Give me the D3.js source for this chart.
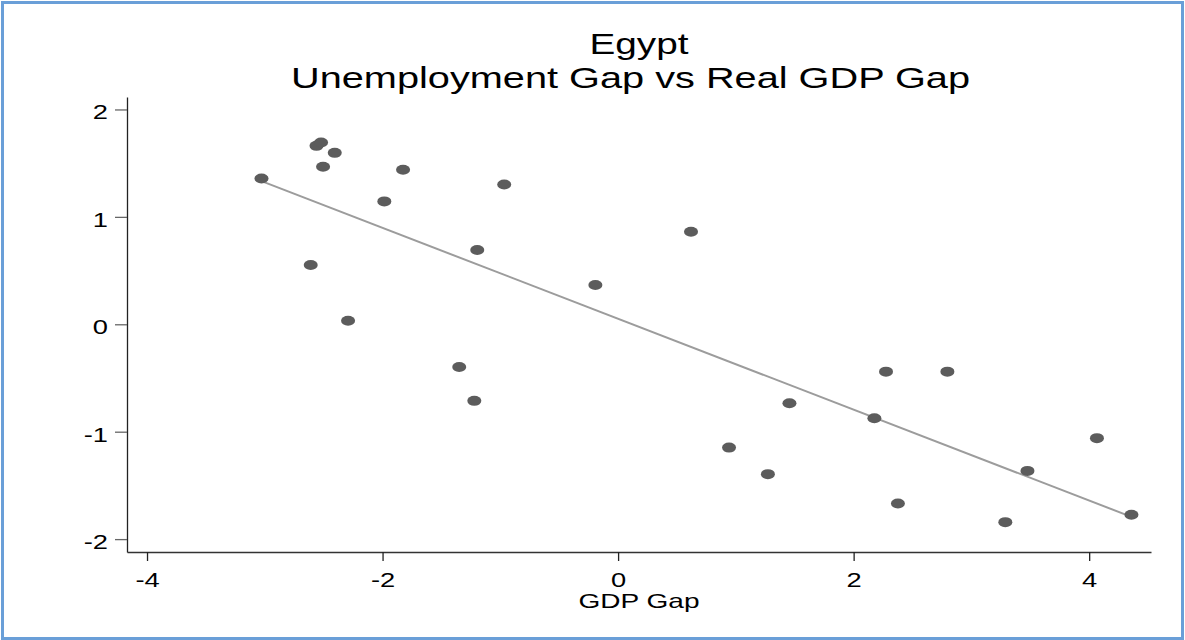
<!DOCTYPE html>
<html>
<head>
<meta charset="utf-8">
<script src="https://cdn.jsdelivr.net/npm/d3@7"></script>
<style>
  html, body { margin: 0; padding: 0; background: #fff; }
  svg { display: block; font-family: "Liberation Sans", Arial, Helvetica, sans-serif; }
</style>
</head>
<body>
<svg id="chart" width="1185" height="640"></svg>
<script>
// Output gap (x) and unemployment gap (y) for each year
const gdpGap = [-3.028, -2.561, -2.522, -2.406, -2.505, -1.826, -1.985, -0.967, -1.196, -2.610,
                -2.293, -0.193, 0.619, -1.349, -1.221, 1.455, 0.942, 1.272, 2.275, 2.796,
                2.176, 4.066, 3.476, 2.376, 3.288, 4.359];
const unempGap = [1.358, 1.661, 1.693, 1.596, 1.466, 1.438, 1.144, 1.302, 0.691, 0.552,
                  0.033, 0.366, 0.861, -0.397, -0.713, -0.735, -1.148, -1.395, -0.441, -0.441,
                  -0.874, -1.060, -1.365, -1.669, -1.842, -1.774];
const xTicks = [-4, -2, 0, 2, 4];
const yTicks = [-2, -1, 0, 1, 2];
const titleLines = ["Egypt", "Unemployment Gap vs Real GDP Gap"];
const xTitle = "GDP Gap";

// glyphs are drawn in a widened face
const stretch = 1.3;

const svg = d3.select("#chart");

// frame
svg.append("rect")
  .attr("x", 2.5).attr("y", 2.5)
  .attr("width", 1180).attr("height", 636)
  .attr("fill", "none")
  .attr("stroke", "#6a9fd8")
  .attr("stroke-width", 3);

const x = d3.scaleLinear().domain([-4.17, 4.525]).range([127, 1151]);
const y = d3.scaleLinear().domain([-2.12, 2.116]).range([552, 97]);

// least-squares fit line
const n = gdpGap.length;
const mx = d3.mean(gdpGap), my = d3.mean(unempGap);
let sxy = 0, sxx = 0;
for (let i = 0; i < n; i++) {
  sxy += (gdpGap[i] - mx) * (unempGap[i] - my);
  sxx += (gdpGap[i] - mx) * (gdpGap[i] - mx);
}
const slope = sxy / sxx, intercept = my - slope * mx;
const [x0, x1] = d3.extent(gdpGap);

svg.append("path")
  .datum([x0, x1])
  .attr("d", d3.line().x(d => x(d)).y(d => y(intercept + slope * d)))
  .attr("fill", "none")
  .attr("stroke", "#9c9c9c")
  .attr("stroke-width", 2);

// points
svg.append("g").selectAll("ellipse")
  .data(d3.range(n))
  .join("ellipse")
  .attr("cx", i => x(gdpGap[i]))
  .attr("cy", i => y(unempGap[i]))
  .attr("rx", 7).attr("ry", 5)
  .attr("fill", "#5c5c5c");

// axes
const yAxis = svg.append("g")
  .attr("transform", `translate(${x.range()[0]},0)`)
  .call(d3.axisLeft(y).tickValues(yTicks).tickFormat(d => String(d))
        .tickSize(12).tickPadding(7).tickSizeOuter(0));
yAxis.select(".domain").attr("stroke", "#222").attr("stroke-width", 1.3);
yAxis.selectAll(".tick line").attr("stroke", "#666").attr("stroke-width", 1.3);
yAxis.selectAll(".tick text")
  .attr("font-size", 21).attr("fill", "#000").attr("dy", "0.45em")
  .attr("font-family", "'Liberation Sans', Arial, sans-serif")
  .attr("x", -19 / stretch)
  .attr("transform", `scale(${stretch},1)`);

const xAxis = svg.append("g")
  .attr("transform", `translate(0,${y.range()[0]})`)
  .call(d3.axisBottom(x).tickValues(xTicks).tickFormat(d => String(d))
        .tickSize(9).tickPadding(11).tickSizeOuter(0));
xAxis.select(".domain").attr("stroke", "#333").attr("stroke-width", 1.3);
xAxis.selectAll(".tick line").attr("stroke", "#222").attr("stroke-width", 1.3);
xAxis.selectAll(".tick text")
  .attr("font-size", 21).attr("fill", "#000")
  .attr("font-family", "'Liberation Sans', Arial, sans-serif")
  .attr("transform", `scale(${stretch},1)`);

// x-axis title
svg.append("text")
  .attr("x", 639).attr("y", 608)
  .attr("text-anchor", "middle")
  .attr("font-size", 21)
  .attr("fill", "#000")
  .attr("textLength", 121).attr("lengthAdjust", "spacingAndGlyphs")
  .text(xTitle);

// chart title
svg.append("text")
  .attr("x", 639).attr("y", 54)
  .attr("text-anchor", "middle")
  .attr("font-size", 29.5)
  .attr("fill", "#000")
  .attr("textLength", 99).attr("lengthAdjust", "spacingAndGlyphs")
  .text(titleLines[0]);
svg.append("text")
  .attr("x", 630.5).attr("y", 87.5)
  .attr("text-anchor", "middle")
  .attr("font-size", 29.5)
  .attr("fill", "#000")
  .attr("textLength", 679).attr("lengthAdjust", "spacingAndGlyphs")
  .text(titleLines[1]);
</script>
</body>
</html>
